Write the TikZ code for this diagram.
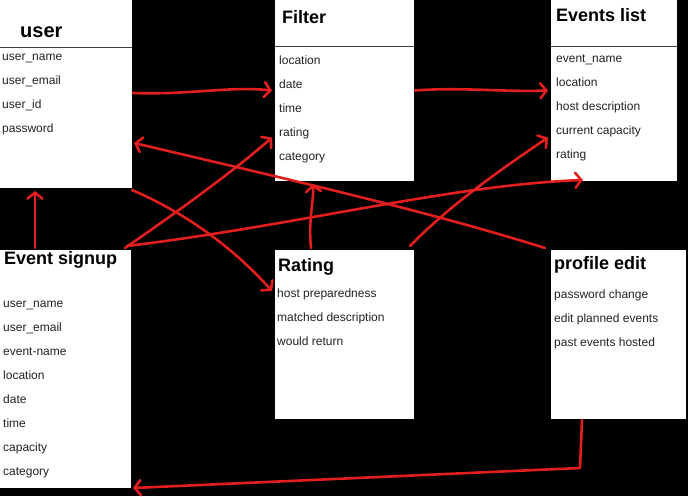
\documentclass[tikz,border=0pt]{standalone}
\usepackage{fontspec}
\setmainfont{Liberation Sans}
\usetikzlibrary{arrows.meta}
\definecolor{pen}{RGB}{226,30,30}
\definecolor{ink}{RGB}{34,34,34}
\begin{document}
\begin{tikzpicture}[x=1pt,y=-1pt,
  box/.style={draw=none,fill=white,anchor=north west,inner sep=0pt,outer sep=0pt},
  ttl/.style={anchor=base west,inner sep=0pt,font=\fontsize{18}{20}\selectfont\bfseries},
  itm/.style={anchor=base west,inner sep=0pt,font=\fontsize{12}{14}\selectfont,text=ink},
  hdr/.style={draw=black!75,line width=1pt},
  con/.style={draw=pen,line width=2.6pt,line cap=round,line join=round,
    -{Straight Barb[length=6pt,width=15pt,line cap=round]}}]

\fill[black] (0,0) rectangle (688,496);
\useasboundingbox (0,0) rectangle (688,496);

% boxes
\node[box,minimum width=132pt,minimum height=188pt] (user) at (0,0) {};
\node[box,minimum width=139pt,minimum height=181pt] (filter) at (275,0) {};
\node[box,minimum width=126pt,minimum height=181pt] (events) at (551,0) {};
\node[box,minimum width=131pt,minimum height=238pt] (signup) at (0,250) {};
\node[box,minimum width=139pt,minimum height=169pt] (rating) at (275,250) {};
\node[box,minimum width=135pt,minimum height=169pt] (profile) at (551,250) {};

% header rules
\draw[hdr] ([shift={(0,47)}]user.north west) -- ([shift={(0,47)}]user.north east);
\draw[hdr] ([shift={(0,46)}]filter.north west) -- ([shift={(0,46)}]filter.north east);
\draw[hdr] ([shift={(0,46)}]events.north west) -- ([shift={(0,46)}]events.north east);

% titles
\node[ttl,font=\fontsize{20}{22}\selectfont\bfseries] (tuser) at (20,37) {user};
\node[ttl] (tfilter) at (282,23) {Filter};
\node[ttl] (tevents) at (556,21) {Events list};
\node[ttl] (tsignup) at (4,264) {Event signup};
\node[ttl] (trating) at (278,271) {Rating};
\node[ttl] (tprofile) at (554,269) {profile edit};

% user items
\node[itm] (u1) at (2,60) {user\_name};
\node[itm] (u2) at (2,84) {user\_email};
\node[itm] (u3) at (2,108) {user\_id};
\node[itm] (u4) at (2,132) {password};

% filter items
\node[itm] (f1) at (279,64) {location};
\node[itm] (f2) at (279,88) {date};
\node[itm] (f3) at (279,112) {time};
\node[itm] (f4) at (279,136) {rating};
\node[itm] (f5) at (279,160) {category};

% events items
\node[itm] (e1) at (556,62) {event\_name};
\node[itm] (e2) at (556,86) {location};
\node[itm] (e3) at (556,110) {host description};
\node[itm] (e4) at (556,134) {current capacity};
\node[itm] (e5) at (556,158) {rating};

% signup items
\node[itm] (s1) at (3,307) {user\_name};
\node[itm] (s2) at (3,331) {user\_email};
\node[itm] (s3) at (3,355) {event-name};
\node[itm] (s4) at (3,379) {location};
\node[itm] (s5) at (3,403) {date};
\node[itm] (s6) at (3,427) {time};
\node[itm] (s7) at (3,451) {capacity};
\node[itm] (s8) at (3,475) {category};

% rating items
\node[itm] (r1) at (277,297) {host preparedness};
\node[itm] (r2) at (277,321) {matched description};
\node[itm] (r3) at (277,345) {would return};

% profile items
\node[itm] (p1) at (554,298) {password change};
\node[itm] (p2) at (554,322) {edit planned events};
\node[itm] (p3) at (554,346) {past events hosted};

% connectors
\draw[con] ([shift={(1,-1)}]user.east) .. controls (190,95) and (230,86) .. ([shift={(-3,0)}]filter.west);
\draw[con] ([shift={(1,0)}]filter.east) .. controls (460,87) and (500,92) .. ([shift={(-3,0)}]events.west);
\draw[con] ([shift={(-6,-2)}]profile.north west) .. controls (430,212) and (300,182) .. ([shift={(2,49)}]user.east);
\draw[con] ([shift={(0,2)}]user.south east) .. controls (190,215) and (235,250) .. ([shift={(-3,41)}]rating.north west);
\draw[con] ([shift={(-6,-2)}]signup.north east) .. controls (180,210) and (235,170) .. ([shift={(-3,47)}]filter.west);
\draw[con] ([shift={(-4,-4)}]signup.north east) .. controls (300,225) and (450,185) .. ([shift={(32,-1)}]events.south west);
\draw[con] ([shift={(36,-2)}]rating.north west) .. controls (308,220) and (314,200) .. ([shift={(38,3)}]filter.south west);
\draw[con] ([shift={(-4,-4)}]rating.north east) .. controls (450,205) and (500,170) .. ([shift={(-3,47)}]events.west);
\draw[con] ([shift={(35,-2)}]signup.north west) -- ([shift={(35,3)}]user.south west);
\coordinate (bend) at (580,468);
\draw[con] ([shift={(31,1)}]profile.south west) -- (bend) -- ([shift={(2,0)}]signup.south east);
\end{tikzpicture}
\end{document}
